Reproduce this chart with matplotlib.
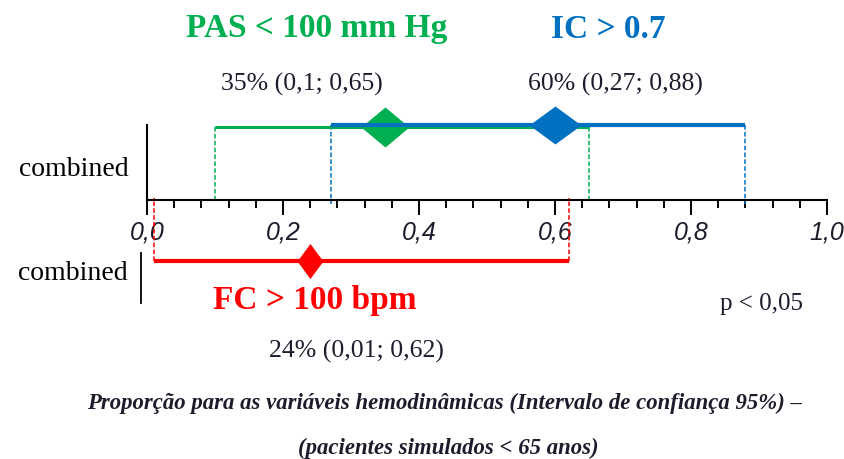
import matplotlib
matplotlib.use("Agg")
import matplotlib.pyplot as plt
from matplotlib.ticker import MultipleLocator, FixedLocator, FuncFormatter

# proportions and 95% confidence intervals
names = ["PAS < 100 mm Hg", "IC > 0.7", "FC > 100 bpm"]
proportion = [0.35, 0.60, 0.24]
ci_low = [0.10, 0.27, 0.01]
ci_high = [0.65, 0.88, 0.62]
colors = ["#00B050", "#0070C0", "#FF0000"]
xticks = [0.0, 0.2, 0.4, 0.6, 0.8, 1.0]
row_label = "combined"
p_text = "p < 0,05"
caption = ["Proporção para as variáveis hemodinâmicas (Intervalo de confiança 95%) –",
           "(pacientes simulados < 65 anos)"]

W, H = 844, 459
fig = plt.figure(figsize=(W / 100, H / 100), dpi=100)


def fx(px):
    return px / W


def fy(py):
    return 1 - py / H


def dec(v):
    return f"{v:g}".replace(".", ",")


def value_label(i):
    return f"{round(proportion[i] * 100)}% ({dec(ci_low[i])}; {dec(ci_high[i])})"


def diamond(wide):
    return [(-wide, 0), (0, 1), (wide, 0), (0, -1), (-wide, 0)]


serif = "Liberation Serif"
ink = "#1c1c2c"

# upper panel (PAS and IC)
ax = fig.add_axes([fx(147), fy(200), fx(827) - fx(147), fy(125) - fy(200)])
ax.set_xlim(0, 1)
ax.set_ylim(0, 75)
for s in ["top", "right"]:
    ax.spines[s].set_visible(False)
for s in ["left", "bottom"]:
    ax.spines[s].set_linewidth(1.5)
ax.xaxis.set_major_locator(FixedLocator(xticks))
ax.xaxis.set_minor_locator(MultipleLocator(0.04))
ax.xaxis.set_major_formatter(FuncFormatter(lambda v, p: f"{v:.1f}".replace(".", ",")))
ax.tick_params(axis="x", which="major", direction="out", length=11, width=1.4, pad=4,
               labelsize=18)
ax.tick_params(axis="x", which="minor", direction="out", length=6, width=1.4)
for t in ax.get_xticklabels():
    t.set_fontfamily("Liberation Sans")
    t.set_fontstyle("italic")
    t.set_color(ink)
ax.set_yticks([33])
ax.set_yticklabels([row_label], fontfamily=serif, fontsize=20)
ax.tick_params(axis="y", length=0, pad=13.5)

rows = [72.5, 75]
widths = [2.2, 3.0]
sizes = [(34.6, 1.2), (37.4, 1.37)]
for i in range(2):
    c = colors[i]
    for x in (ci_low[i], ci_high[i]):
        ax.plot([x, x], [rows[i], -4 if i == 1 else 0], color=c, lw=1.1,
                ls=(0, (3, 1.5)), clip_on=False, zorder=2)
    ax.plot([ci_low[i], ci_high[i]], [rows[i], rows[i]], color=c, lw=widths[i],
            solid_capstyle="butt", clip_on=False, zorder=3 + 2 * i)
    ms, wide = sizes[i]
    ax.plot(proportion[i], rows[i], marker=diamond(wide), markersize=ms, color=c,
            markeredgewidth=0, clip_on=False, zorder=4 + 2 * i)

# lower panel (FC)
ax2 = fig.add_axes([fx(147), fy(303), fx(827) - fx(147), fy(253) - fy(303)])
ax2.set_xlim(0, 1)
ax2.set_ylim(0, 50)
for s in ["top", "right", "bottom"]:
    ax2.spines[s].set_visible(False)
ax2.spines["left"].set_position(("outward", 4.3))
ax2.spines["left"].set_linewidth(1.3)
ax2.set_xticks([])
ax2.set_yticks([33])
ax2.set_yticklabels([row_label], fontfamily=serif, fontsize=20)
ax2.tick_params(axis="y", length=0, pad=10)

red_row = 42
for x in (ci_low[2], ci_high[2]):
    ax2.plot([x, x], [red_row, 105], color=colors[2], lw=1.1, ls=(0, (3, 1.5)),
             clip_on=False, zorder=1)
ax2.plot([ci_low[2], ci_high[2]], [red_row, red_row], color=colors[2], lw=3,
         solid_capstyle="butt", clip_on=False, zorder=3)
ax2.plot(proportion[2], red_row, marker=diamond(0.74), markersize=25.2, color=colors[2],
         markeredgewidth=0, clip_on=False, zorder=4)

# headings and value labels
fig.text(fx(317), fy(29), names[0], color=colors[0], fontfamily=serif, fontweight="bold",
         fontsize=24, ha="center", va="center")
fig.text(fx(608), fy(29), names[1], color=colors[1], fontfamily=serif, fontweight="bold",
         fontsize=24, ha="center", va="center")
fig.text(fx(302), fy(84), value_label(0), fontfamily=serif, fontsize=18.5,
         ha="center", va="center", color=ink)
fig.text(fx(615), fy(84), value_label(1), fontfamily=serif, fontsize=18.5,
         ha="center", va="center", color=ink)
fig.text(fx(315), fy(301), names[2], color=colors[2], fontfamily=serif, fontweight="bold",
         fontsize=24, ha="center", va="center")
fig.text(fx(356), fy(351), value_label(2), fontfamily=serif, fontsize=18.5,
         ha="center", va="center", color=ink)
fig.text(fx(762), fy(304), p_text, fontfamily=serif, fontsize=18,
         ha="center", va="center", color=ink)

fig.text(fx(445), fy(403), caption[0], fontfamily=serif, fontweight="bold",
         fontstyle="italic", fontsize=16.4, ha="center", va="center", color=ink)
fig.text(fx(448), fy(448), caption[1], fontfamily=serif, fontweight="bold",
         fontstyle="italic", fontsize=16.4, ha="center", va="center", color=ink)

fig.savefig("out.png", dpi=100)
